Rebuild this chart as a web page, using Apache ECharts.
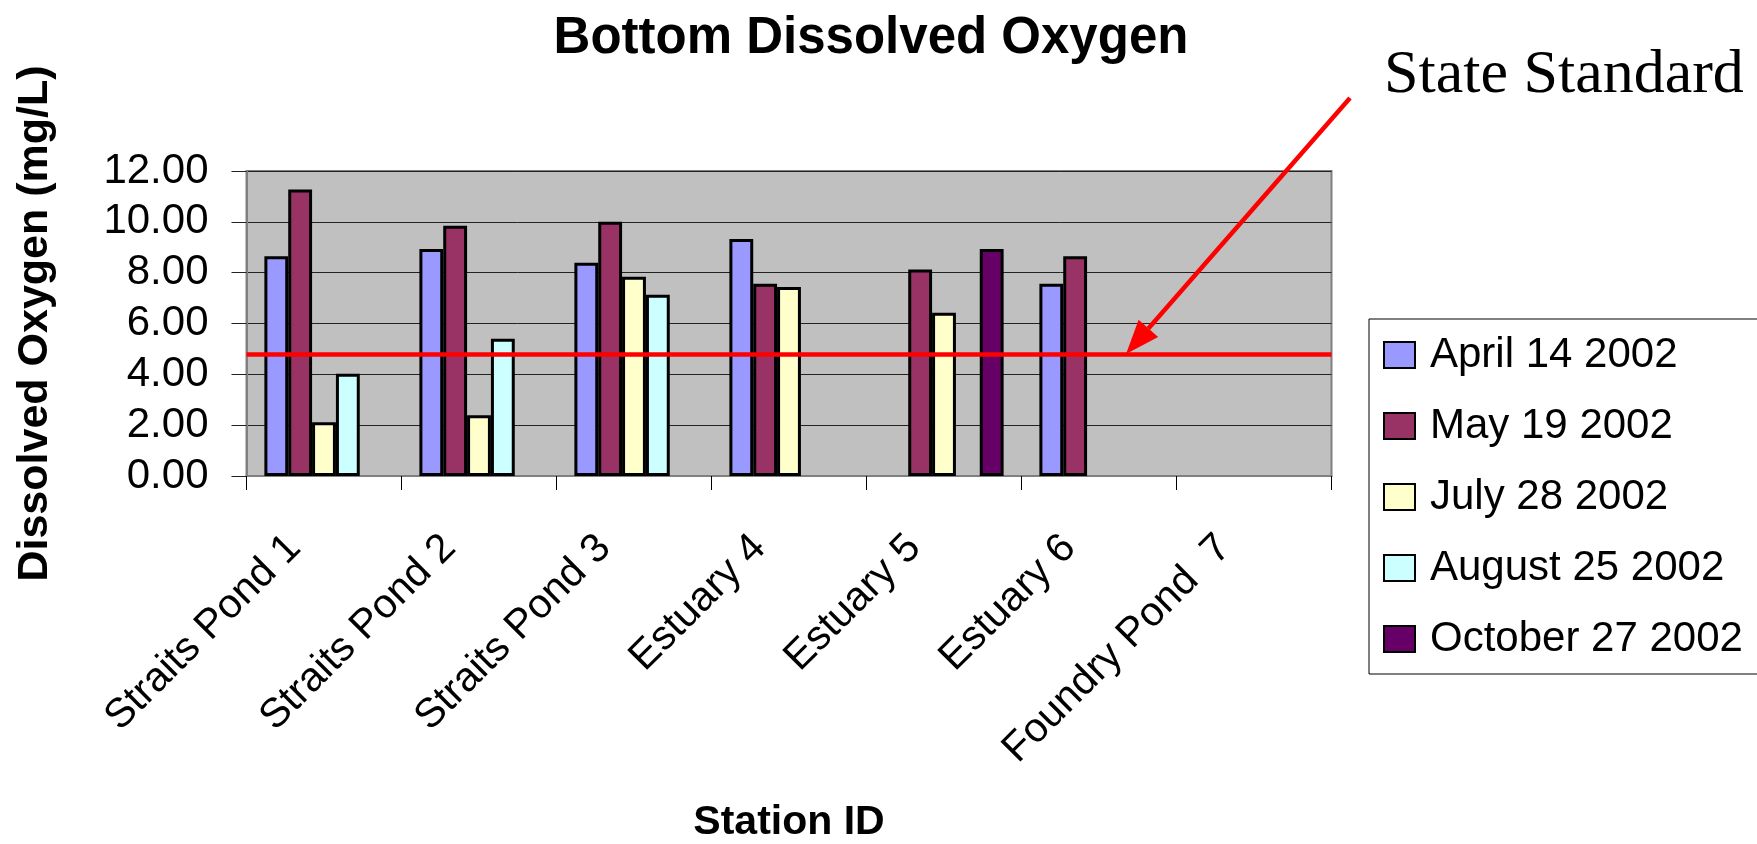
<!DOCTYPE html>
<html>
<head>
<meta charset="utf-8">
<script src="https://cdn.jsdelivr.net/npm/echarts@6/dist/echarts.min.js"></script>
<style>
html,body{margin:0;padding:0;background:#fff;}
#c{width:1757px;height:844px;}
</style>
</head>
<body>
<div id="c"></div>
<script>
// ---- data ----
var stations = ['Straits Pond 1','Straits Pond 2','Straits Pond 3','Estuary 4','Estuary 5','Estuary 6','Foundry Pond  7'];
var seriesNames = ['April 14 2002','May 19 2002','July 28 2002','August 25 2002','October 27 2002'];
var april14 = [8.65, 8.93, 8.39, 9.32, null, 7.56, null];
var may19   = [11.27, 9.85, 10.00, 7.56, 8.12, 8.65, null];
var july28  = [2.11, 2.39, 7.84, 7.44, 6.42, null, null];
var aug25   = [4.02, 5.40, 7.13, null, null, null, null];
var oct27   = [null, null, null, null, 8.93, null, null];
var yTicks = [0, 2, 4, 6, 8, 10, 12];
var stateStandard = 4.8;

var colors = ['#9999FF','#993366','#FFFFCC','#CCFFFF','#660066'];
var values = [april14, may19, july28, aug25, oct27];

var chart = echarts.init(document.getElementById('c'));
var FONT = 'Liberation Sans, Arial, sans-serif';

var series = seriesNames.map(function(n, i){
  var s = {
    name: n,
    type: 'bar',
    data: values[i],
    barGap: '0%',
    barCategoryGap: '23.08%',
    itemStyle: { color: colors[i], borderColor: '#000', borderWidth: 3 },
    emphasis: { disabled: true },
    animation: false
  };
  if (i === 0) {
    s.markLine = {
      silent: true,
      symbol: ['none','none'],
      label: { show: false },
      lineStyle: { color: '#FF0000', width: 4.5, type: 'solid' },
      data: [{ yAxis: stateStandard }],
      z: 10,
      animation: false
    };
  }
  return s;
});

chart.setOption({
  animation: false,
  backgroundColor: '#ffffff',
  title: {
    text: 'Bottom Dissolved Oxygen',
    left: 866,
    textAlign: 'center',
    top: 8,
    textStyle: { fontFamily: FONT, fontWeight: 'bold', fontSize: 51, color: '#000' }
  },
  legend: {
    orient: 'vertical',
    left: 1369,
    top: 319,
    padding: [15, 60, 14, 14],
    itemGap: 29,
    itemWidth: 31,
    itemHeight: 26,
    icon: 'rect',
    borderColor: '#000',
    borderWidth: 1,
    backgroundColor: '#fff',
    textStyle: { fontFamily: FONT, fontSize: 42, color: '#000', padding: [0,0,0,10] },
    data: seriesNames
  },
  grid: {
    left: 246.5, right: 425.5, top: 171, bottom: 367,
    show: true, backgroundColor: '#C0C0C0', borderColor: '#808080', borderWidth: 2,
    containLabel: false
  },
  xAxis: {
    type: 'category',
    data: stations,
    name: 'Station ID',
    nameLocation: 'middle',
    nameGap: 326,
    nameTextStyle: { fontFamily: FONT, fontWeight: 'bold', fontSize: 41, color: '#000', verticalAlign: 'top' },
    axisLine: { show: true, lineStyle: { color: '#808080', width: 2 } },
    axisTick: { show: true, length: 14, lineStyle: { color: '#000', width: 1 } },
    axisLabel: {
      rotate: 45, interval: 0, margin: 36,
      fontFamily: FONT, fontSize: 41, color: '#000',
      padding: [0, 42, 0, 0]
    }
  },
  yAxis: {
    type: 'value',
    min: 0, max: 12, interval: 2,
    name: 'Dissolved Oxygen (mg/L)',
    nameLocation: 'middle',
    nameGap: 190,
    nameTextStyle: { fontFamily: FONT, fontWeight: 'bold', fontSize: 43, color: '#000' },
    axisLine: { show: true, lineStyle: { color: '#808080', width: 2 } },
    axisTick: { show: true, length: 15, lineStyle: { color: '#222', width: 1 } },
    splitLine: { show: true, lineStyle: { color: '#222', width: 1 } },
    axisLabel: {
      margin: 38,
      fontFamily: FONT, fontSize: 42, color: '#000',
      formatter: function(v){ return yTicks.indexOf(v) >= 0 ? v.toFixed(2) : ''; }
    }
  },
  series: series
});

// annotation arrow + label
var tipY = chart.convertToPixel({ yAxisIndex: 0 }, stateStandard);
var tipX = 1126, startX = 1350, startY = 98;
var dx = startX - tipX, dy = startY - tipY;
var len = Math.sqrt(dx*dx + dy*dy);
var ux = dx/len, uy = dy/len;
var headLen = 34, headHalf = 13;
var bx = tipX + ux*headLen, by = tipY + uy*headLen;
var px = -uy, py = ux;
chart.setOption({
  graphic: [
    { type: 'line', z: 100, shape: { x1: startX, y1: startY, x2: bx, y2: by },
      style: { stroke: '#FF0000', lineWidth: 4.5 } },
    { type: 'polygon', z: 100, shape: { points: [[tipX, tipY], [bx + px*headHalf, by + py*headHalf], [bx - px*headHalf, by - py*headHalf]] },
      style: { fill: '#FF0000' } },
    { type: 'text', z: 100, left: 1384, top: 45,
      style: { text: 'State Standard', font: '62px "Liberation Serif", "Times New Roman", serif', fill: '#000' } }
  ]
});
</script>
</body>
</html>
